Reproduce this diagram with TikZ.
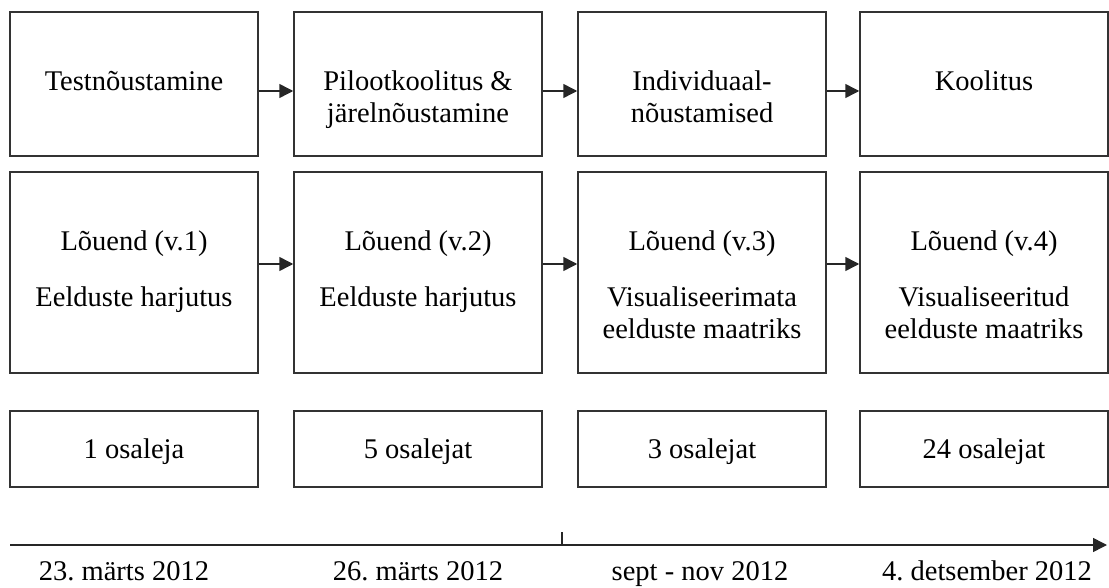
\documentclass[tikz,border=0pt]{standalone}
\usepackage{fontspec}
\setmainfont{Liberation Serif}
\usepackage{tikz}
\usetikzlibrary{arrows.meta}
\usetikzlibrary{positioning}
\frenchspacing
\tikzstyle{stagebox} = [draw=black!80, line width=1.5pt, rectangle,
minimum width=248pt, inner sep=0pt]
\tikzstyle{stagetext} = [anchor=north, align=center, inner sep=0pt,
font=\fontsize{28.5}{32}\selectfont]
\tikzstyle{datetext} = [anchor=base, inner sep=0pt,
font=\fontsize{28.5}{32}\selectfont]
\tikzstyle{countbox} = [stagebox, minimum height=76pt, text depth=0pt,
font=\fontsize{28.5}{32}\selectfont]
\tikzstyle{link} = [line width=1.5pt, draw=black!85,
-{Triangle[length=14pt,width=14pt]}]

\begin{document}
\begin{tikzpicture}[x=1pt, y=-1pt]
        \useasboundingbox (0,0) rectangle (1109,588);
        % activities
        \node [stagebox, minimum height=144pt] (a1) at (134,84) {};
        \node [stagebox, minimum height=144pt] (a2) at (418,84) {};
        \node [stagebox, minimum height=144pt] (a3) at (702,84) {};
        \node [stagebox, minimum height=144pt] (a4) at (984,84) {};
        \node [stagetext] (a1t) at ([yshift=-56.6pt]a1.north) {\strut Testnõustamine};
        \node [stagetext] (a2t) at ([yshift=-56.6pt]a2.north) {\strut Pilootkoolitus \&\\järelnõustamine};
        \node [stagetext] (a3t) at ([yshift=-56.6pt]a3.north) {\strut Individuaal-\\nõustamised};
        \node [stagetext] (a4t) at ([yshift=-56.6pt]a4.north) {\strut Koolitus};
        % canvas versions
        \node [stagebox, minimum height=201pt] (v1) at (134,272.5) {};
        \node [stagebox, minimum height=201pt] (v2) at (418,272.5) {};
        \node [stagebox, minimum height=201pt] (v3) at (702,272.5) {};
        \node [stagebox, minimum height=201pt] (v4) at (984,272.5) {};
        \node [stagetext] (v1t) at ([yshift=-56.6pt]v1.north) {\strut Lõuend (v.1)\\[24pt]Eelduste harjutus};
        \node [stagetext] (v2t) at ([yshift=-56.6pt]v2.north) {\strut Lõuend (v.2)\\[24pt]Eelduste harjutus};
        \node [stagetext] (v3t) at ([yshift=-56.6pt]v3.north) {\strut Lõuend (v.3)\\[24pt]Visualiseerimata\\eelduste maatriks};
        \node [stagetext] (v4t) at ([yshift=-56.6pt]v4.north) {\strut Lõuend (v.4)\\[24pt]Visualiseeritud\\eelduste maatriks};
        % participants
        \node [countbox] (c1) at (134,449) {1 osaleja};
        \node [countbox] (c2) at (418,449) {5 osalejat};
        \node [countbox] (c3) at (702,449) {3 osalejat};
        \node [countbox] (c4) at (984,449) {24 osalejat};
        % arrows
        \draw [link] ([yshift=-7pt]a1.east) -- ([yshift=-7pt]a2.west);
        \draw [link] ([yshift=-7pt]a2.east) -- ([yshift=-7pt]a3.west);
        \draw [link] ([yshift=-7pt]a3.east) -- ([yshift=-7pt]a4.west);
        \draw [link] ([yshift=8.5pt]v1.east) -- ([yshift=8.5pt]v2.west);
        \draw [link] ([yshift=8.5pt]v2.east) -- ([yshift=8.5pt]v3.west);
        \draw [link] ([yshift=8.5pt]v3.east) -- ([yshift=8.5pt]v4.west);
        % timeline
        \coordinate (tl0) at (10,545);
        \coordinate (tl1) at (1107,545);
        \coordinate (tick) at (562,545);
        \draw [link] (tl0) -- (tl1);
        \draw [line width=1.5pt, draw=black!85] (tick) -- ++(0,-13);
        \node [datetext] (d1) at (124,580) {23. märts 2012};
        \node [datetext] (d2) at (418,580) {26. märts 2012};
        \node [datetext] (d3) at (700,580) {sept - nov 2012};
        \node [datetext] (d4) at (987,580) {4. detsember 2012};
    \end{tikzpicture}
\end{document}
